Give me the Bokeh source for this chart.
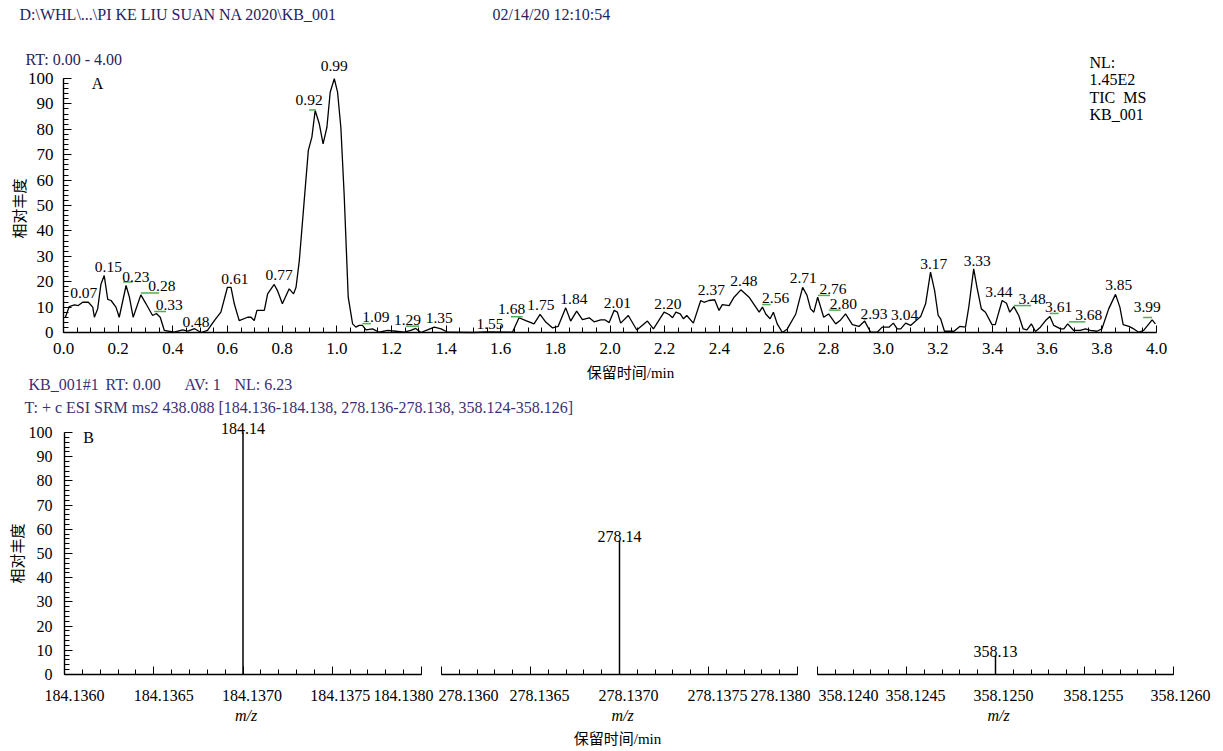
import math
from bokeh.plotting import figure
from bokeh.models import (ColumnDataSource, Range1d, LinearAxis, FixedTicker, Label, LabelSet,
                          PrintfTickFormatter, CustomJSTickFormatter)
from bokeh.core.properties import value
from bokeh.embed import file_html
from bokeh.resources import INLINE

# ---------------- Panel A : TIC chromatogram ----------------
rt_min = [0.007, 0.021, 0.040, 0.054, 0.070, 0.091, 0.107, 0.113, 0.125, 0.137, 0.149, 0.162, 0.174,
          0.192, 0.204, 0.229, 0.241, 0.255, 0.283, 0.302, 0.326, 0.340, 0.354, 0.369, 0.405, 0.436,
          0.455, 0.480, 0.503, 0.527, 0.552, 0.576, 0.600, 0.613, 0.625, 0.643, 0.674, 0.686, 0.698,
          0.708, 0.735, 0.747, 0.771, 0.783, 0.801, 0.826, 0.842, 0.851, 0.863, 0.881, 0.896, 0.909,
          0.921, 0.936, 0.950, 0.964, 0.976, 0.991, 1.003, 1.015, 1.027, 1.042, 1.058, 1.070, 1.082,
          1.094, 1.107, 1.131, 1.155, 1.186, 1.216, 1.247, 1.271, 1.289, 1.308, 1.332, 1.357, 1.382,
          1.406, 1.500, 1.550, 1.643, 1.667, 1.692, 1.722, 1.744, 1.765, 1.790, 1.810, 1.838, 1.856,
          1.878, 1.899, 1.924, 1.942, 1.966, 1.981, 1.997, 2.015, 2.027, 2.039, 2.067, 2.098, 2.137,
          2.159, 2.198, 2.216, 2.229, 2.241, 2.257, 2.269, 2.281, 2.305, 2.332, 2.344, 2.362, 2.383,
          2.399, 2.411, 2.436, 2.454, 2.479, 2.509, 2.546, 2.558, 2.570, 2.586, 2.598, 2.612, 2.631,
          2.649, 2.680, 2.705, 2.721, 2.734, 2.746, 2.760, 2.782, 2.800, 2.826, 2.842, 2.862, 2.887,
          2.911, 2.932, 2.954, 2.978, 2.996, 3.021, 3.037, 3.051, 3.064, 3.082, 3.100, 3.137, 3.155,
          3.173, 3.188, 3.201, 3.210, 3.224, 3.259, 3.280, 3.301, 3.313, 3.331, 3.343, 3.359, 3.374,
          3.398, 3.410, 3.435, 3.451, 3.463, 3.478, 3.496, 3.512, 3.526, 3.542, 3.557, 3.575, 3.594,
          3.610, 3.624, 3.649, 3.661, 3.675, 3.697, 3.721, 3.740, 3.758, 3.782, 3.800, 3.825, 3.850,
          3.866, 3.878, 3.899, 3.917, 3.935, 3.953, 3.984, 3.996]
tic_rel = [6.0, 10.2, 10.9, 10.6, 11.9, 11.9, 10.0, 6.0, 9.3, 19.0, 22.4, 13.0, 12.6,
           10.0, 6.0, 18.5, 14.0, 6.0, 14.8, 11.3, 6.7, 7.5, 6.0, 0.8, 0.1, 1.0,
           0.5, 1.5, 0.0, 0.8, 4.7, 8.0, 17.8, 17.8, 11.3, 4.7, 6.0, 6.0, 4.7,
           8.7, 8.7, 15.2, 18.9, 16.5, 11.3, 17.2, 15.2, 17.8, 28.3, 52.0, 71.7, 76.9,
           87.4, 82.2, 74.3, 80.8, 94.6, 99.9, 94.6, 80.8, 54.6, 13.9, 3.4, 2.1, 2.8,
           2.8, 1.0, 1.4, 0.1, 0.8, 0.5, 0.1, 0.8, 1.6, 0.0, 1.0, 2.1, 1.4,
           0.1, 0.0, 0.2, 0.1, 5.8, 4.7, 3.4, 7.1, 4.1, 1.8, 2.4, 9.7, 4.5,
           8.4, 5.1, 5.8, 4.2, 5.0, 5.0, 3.9, 8.7, 8.0, 3.7, 6.7, 1.0, 4.5,
           1.4, 8.0, 7.1, 5.8, 8.0, 7.3, 5.4, 6.7, 3.7, 12.6, 11.9, 12.6, 12.9,
           8.7, 11.0, 10.6, 13.9, 16.8, 13.9, 8.0, 10.0, 7.3, 5.4, 8.0, 3.4, 0.0,
           1.4, 7.3, 17.8, 14.6, 9.3, 8.0, 13.9, 6.0, 7.3, 3.4, 4.7, 7.3, 3.1,
           2.4, 4.5, 0.1, 0.1, 2.1, 2.1, 3.7, 1.4, 1.4, 3.7, 2.8, 6.3, 11.3,
           23.8, 16.5, 6.7, 5.4, 0.5, 0.5, 2.4, 2.1, 10.0, 25.1, 17.8, 9.3, 8.0,
           3.1, 3.1, 12.6, 11.5, 8.0, 10.2, 6.7, 1.4, 1.0, 3.4, 0.4, 2.1, 4.7,
           6.3, 2.8, 1.4, 1.4, 3.4, 0.8, 0.8, 1.4, 0.8, 0.5, 1.4, 9.3, 15.0,
           10.0, 3.1, 2.4, 1.4, 0.1, 0.8, 5.0, 3.4]

peak_labels = ["0.07", "0.15", "0.23", "0.28", "0.33", "0.48", "0.61", "0.77", "0.92", "0.99",
               "1.09", "1.29", "1.35", "1.55", "1.68", "1.75", "1.84", "2.01", "2.20", "2.37",
               "2.48", "2.56", "2.71", "2.76", "2.80", "2.93", "3.04", "3.17", "3.33", "3.44",
               "3.48", "3.61", "3.68", "3.85", "3.99"]
# where each peak label sits (retention time, relative abundance of its baseline)
peak_label_t = [0.074, 0.164, 0.265, 0.360, 0.387, 0.485, 0.627, 0.789, 0.899, 0.991,
                1.143, 1.259, 1.375, 1.561, 1.640, 1.747, 1.868, 2.027, 2.212, 2.371,
                2.490, 2.606, 2.707, 2.816, 2.854, 2.966, 3.078, 3.185, 3.344, 3.423,
                3.545, 3.642, 3.752, 3.862, 3.966]
peak_label_v = [13.4, 23.7, 19.8, 16.3, 8.7, 2.1, 19.2, 20.5, 89.4, 103.0,
                4.1, 3.1, 3.7, 1.4, 7.3, 8.9, 11.3, 9.7, 9.3, 14.6,
                18.5, 11.5, 19.4, 15.0, 9.3, 5.4, 5.0, 25.1, 26.1, 13.9,
                11.3, 8.0, 5.0, 16.8, 8.0]
# green label connectors
conn_t0 = [0.218, 0.283, 0.332, 0.899, 1.094, 1.253, 1.637, 2.557, 2.761, 2.801, 2.927, 3.478, 3.609, 3.679, 3.951]
conn_t1 = [0.253, 0.350, 0.375, 0.924, 1.125, 1.301, 1.680, 2.588, 2.805, 2.844, 2.939, 3.541, 3.642, 3.740, 3.984]
conn_v = [19.9, 15.6, 8.3, 87.6, 3.5, 2.5, 6.2, 11.0, 14.6, 8.8, 5.3, 10.6, 7.5, 4.2, 5.9]

x_ticks_A = [0.0, 0.2, 0.4, 0.6, 0.8, 1.0, 1.2, 1.4, 1.6, 1.8, 2.0, 2.2, 2.4, 2.6, 2.8, 3.0,
             3.2, 3.4, 3.6, 3.8, 4.0]
y_ticks = [0, 10, 20, 30, 40, 50, 60, 70, 80, 90, 100]

# ---------------- Panel B : SRM spectrum ----------------
mz_windows = [(184.1360, 184.1380), (278.1360, 278.1380), (358.1240, 358.1260)]
mz_peaks = [184.1370, 278.1370, 358.1250]
mz_rel = [100.0, 55.3, 7.9]
mz_peak_labels = ["184.14", "278.14", "358.13"]
mz_tick_labels = [["184.1360", "184.1365", "184.1370", "184.1375", "184.1380"],
                  ["278.1360", "278.1365", "278.1370", "278.1375", "278.1380"],
                  ["358.1240", "358.1245", "358.1250", "358.1255", "358.1260"]]
mz_tick_dx = [[10, 10, 9, 8, -18], [27, 9, 9, 9, -17], [31, 9, 8, 9, 7]]

# ---------------- layout constants (pixels) ----------------
W, H = 1223, 751
A_X0, A_KX, A_Y0, A_KY = 63, 273.25, 332, 2.54      # panel A: x=0 px, px/min, y=0 px, px/%
B_Y0, B_KY = 674, 2.42                               # panel B: y=0 px, px/%
B_LEFT = [64, 441, 817]                              # px of each m/z window start
B_WIDTH = [357, 356, 356]                            # px span of each window

SERIF = "Liberation Serif"
CJK = "Noto Sans CJK SC"
MIX = "Liberation Serif, Noto Sans CJK SC"
HEAD = "#27235f"
PURP = "#3a2f74"

p = figure(width=W, height=H, min_border=0, min_border_left=0, min_border_right=0,
           min_border_top=0, min_border_bottom=0,
           x_range=Range1d(-A_X0 / A_KX, (W - A_X0) / A_KX),
           y_range=Range1d(-(H - A_Y0) / A_KY, A_Y0 / A_KY),
           output_backend="svg", toolbar_location=None, x_axis_location=None,
           y_axis_location=None, background_fill_color="white", border_fill_color="white",
           outline_line_color=None)
p.grid.visible = False
p.extra_y_ranges = {"bY": Range1d(-(H - B_Y0) / B_KY, B_Y0 / B_KY)}
xr = {}
for k, (lo, hi) in enumerate(mz_windows):
    s = (hi - lo) / B_WIDTH[k]
    xr[f"b{k}"] = Range1d(lo - B_LEFT[k] * s, lo + (W - B_LEFT[k]) * s)
p.extra_x_ranges = xr


def sl(px, py, text, size="16px", align="left", color="black", font=SERIF, style="normal", angle=0.0):
    return Label(x=px, y=H - py, x_units="screen", y_units="screen", text=text,
                 text_align=align, text_baseline="middle", text_font=font,
                 text_font_size=size, text_color=color, text_font_style=style, angle=angle)


def style_axis(ax, size):
    ax.axis_line_color = "black"
    ax.axis_line_width = 1.4
    ax.major_tick_line_color = "black"
    ax.minor_tick_line_color = "black"
    ax.major_tick_out = 0
    ax.minor_tick_out = 0
    ax.major_label_text_font = SERIF
    ax.major_label_text_font_size = size
    ax.major_label_text_color = "black"


# ---- panel A axes ----
xa = LinearAxis(ticker=FixedTicker(ticks=x_ticks_A, minor_ticks=[i * 0.05 for i in range(81)]),
                formatter=PrintfTickFormatter(format="%.1f"), fixed_location=0, bounds=(0, 4.0))
style_axis(xa, "17px")
xa.major_tick_in = 7
xa.minor_tick_in = 5
xa.major_label_standoff = 10
p.add_layout(xa, "below")

ya = LinearAxis(ticker=FixedTicker(ticks=y_ticks, minor_ticks=list(range(0, 101, 2))),
                fixed_location=0, bounds=(0, 100))
style_axis(ya, "17px")
ya.major_tick_in = 8
ya.minor_tick_in = 5
ya.major_label_standoff = 10
p.add_layout(ya, "left")

p.line(rt_min, tic_rel, line_color="black", line_width=1.3)
p.segment(x0=conn_t0, y0=conn_v, x1=conn_t1, y1=conn_v, line_color="#4caf50", line_width=1.5)
lab_src = ColumnDataSource(dict(x=peak_label_t, y=peak_label_v, text=peak_labels))
p.add_layout(LabelSet(x="x", y="y", text="text", source=lab_src, text_align="center",
                      text_baseline="alphabetic", text_font=value(SERIF),
                      text_font_size="15.5px", text_color="black"))

# ---- header / annotation texts ----
p.add_layout(sl(19, 14, "D:\\WHL\\...\\PI KE LIU SUAN NA 2020\\KB_001", color=HEAD))
p.add_layout(sl(492, 14, "02/14/20 12:10:54", color=HEAD))
p.add_layout(sl(25, 59, "RT: 0.00 - 4.00", color=HEAD))
p.add_layout(sl(97, 83, "A", align="center"))
for txt, py in zip(["NL:", "1.45E2", "TIC\u00a0\u00a0MS", "KB_001"], [62, 79, 97, 114]):
    p.add_layout(sl(1089, py, txt))
p.add_layout(sl(18, 208, "相对丰度", align="center", size="15px", font=CJK, angle=math.pi / 2))
p.add_layout(sl(630, 372, "保留时间/min", align="center", size="15px", font=MIX))
for txt, px in zip(["KB_001#1", "RT: 0.00", "AV: 1", "NL: 6.23"], [28, 105, 184, 234]):
    p.add_layout(sl(px, 384, txt, color=PURP))
p.add_layout(sl(24, 407, "T: + c ESI SRM ms2 438.088 [184.136-184.138, 278.136-278.138, 358.124-358.126]",
                color=PURP))
p.add_layout(sl(88, 437, "B", align="center"))
p.add_layout(sl(16, 553, "相对丰度", align="center", size="15px", font=CJK, angle=math.pi / 2))
p.add_layout(sl(617, 738, "保留时间/min", align="center", size="15px", font=MIX))

# ---- panel B ----
for k, (lo, hi) in enumerate(mz_windows):
    rn = f"b{k}"
    majors = [lo + i * 0.0005 for i in range(5)]
    minors = [lo + i * 0.0001 for i in range(21)]
    xb = LinearAxis(ticker=FixedTicker(ticks=majors, minor_ticks=minors), bounds=(lo, hi),
                    x_range_name=rn, y_range_name="bY", fixed_location=0,
                    formatter=CustomJSTickFormatter(code="return ''"))
    style_axis(xb, "16px")
    xb.major_tick_in = 8
    xb.minor_tick_in = 5
    p.add_layout(xb, "below")
    if k == 0:
        yb = LinearAxis(ticker=FixedTicker(ticks=y_ticks, minor_ticks=list(range(0, 101, 2))),
                        bounds=(0, 100), x_range_name=rn, y_range_name="bY", fixed_location=lo)
        style_axis(yb, "16px")
        yb.major_tick_in = 8
        yb.minor_tick_in = 5
        yb.major_label_standoff = 12
        p.add_layout(yb, "left")
    p.segment(x0=[mz_peaks[k]], y0=[0], x1=[mz_peaks[k]], y1=[mz_rel[k]], line_color="black",
              line_width=1.5, x_range_name=rn, y_range_name="bY")
    p.add_layout(Label(x=mz_peaks[k], y=mz_rel[k], y_offset=4, text=mz_peak_labels[k],
                       x_range_name=rn, y_range_name="bY",
                       text_align="center", text_baseline="alphabetic", text_font=SERIF,
                       text_font_size="16px", text_color="black"))
    tsrc = ColumnDataSource(dict(x=majors, y=[0] * 5, text=mz_tick_labels[k], dx=mz_tick_dx[k]))
    p.add_layout(LabelSet(x="x", y="y", text="text", x_offset="dx", y_offset=-21, source=tsrc,
                          x_range_name=rn, y_range_name="bY",
                          text_align="center", text_baseline="middle", text_font=value(SERIF),
                          text_font_size="16px", text_color="black"))
    p.add_layout(Label(x=(lo + hi) / 2, y=0, y_offset=-41, x_offset=3, text="m/z",
                       x_range_name=rn, y_range_name="bY",
                       text_align="center", text_baseline="middle", text_font=SERIF,
                       text_font_size="16px", text_font_style="italic", text_color="black"))

open("out.html", "w", encoding="utf-8").write(file_html(p, INLINE))
